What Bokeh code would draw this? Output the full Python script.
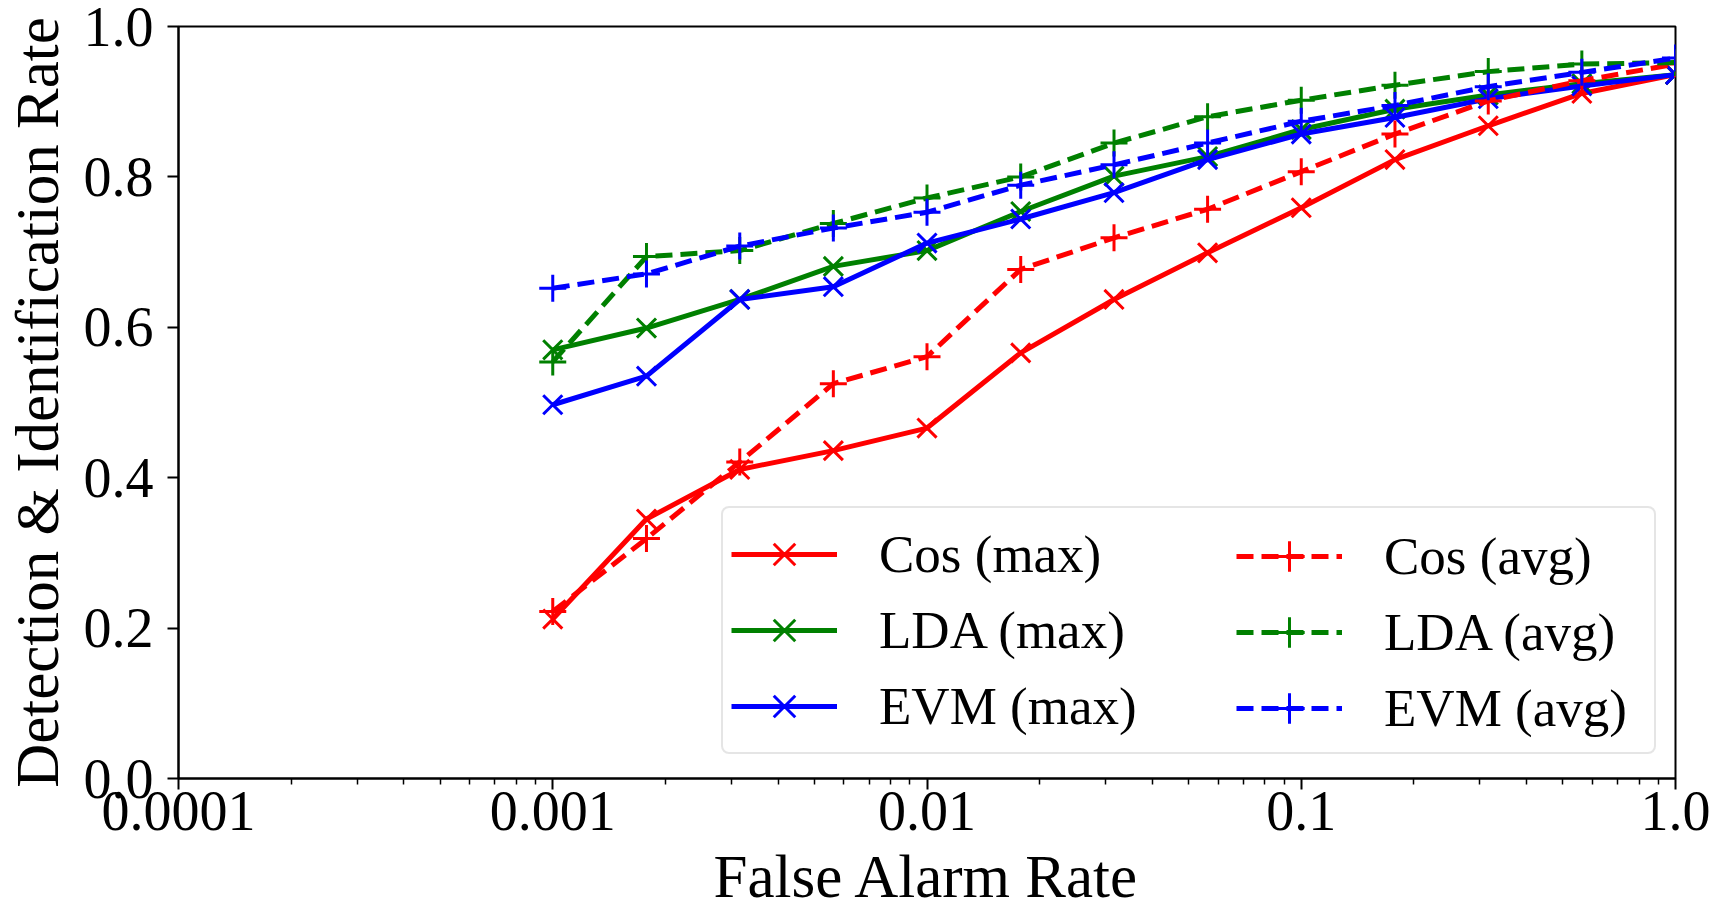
from bokeh.plotting import figure
from bokeh.models import (Range1d, FixedTicker, CustomJSTickFormatter, Legend, LegendItem)
from bokeh.embed import file_html
from bokeh.resources import INLINE

# ---- data ----
far = [0.001, 0.00178, 0.00316, 0.00562, 0.01, 0.0178, 0.0316, 0.0562, 0.1, 0.178, 0.316, 0.562, 1.0]

cos_max = [0.212, 0.345, 0.411, 0.436, 0.466, 0.566, 0.637, 0.699, 0.759, 0.823, 0.868, 0.911, 0.936]
cos_avg = [0.222, 0.319, 0.421, 0.525, 0.561, 0.677, 0.719, 0.757, 0.807, 0.857, 0.901, 0.928, 0.950]
lda_max = [0.570, 0.599, 0.637, 0.681, 0.702, 0.754, 0.801, 0.827, 0.863, 0.890, 0.909, 0.924, 0.936]
lda_avg = [0.554, 0.694, 0.702, 0.738, 0.772, 0.800, 0.845, 0.880, 0.902, 0.922, 0.940, 0.950, 0.952]
evm_max = [0.497, 0.535, 0.637, 0.654, 0.712, 0.744, 0.779, 0.823, 0.857, 0.879, 0.904, 0.921, 0.936]
evm_avg = [0.652, 0.671, 0.708, 0.732, 0.753, 0.789, 0.816, 0.845, 0.874, 0.895, 0.920, 0.939, 0.958]

x_major_ticks = [0.0001, 0.001, 0.01, 0.1, 1.0]
y_ticks = [0.0, 0.2, 0.4, 0.6, 0.8, 1.0]

labels_max = ["Cos (max)", "LDA (max)", "EVM (max)"]
labels_avg = ["Cos (avg)", "LDA (avg)", "EVM (avg)"]
colors = ["#ff0000", "#008000", "#0000ff"]

FONT = "Liberation Serif"
TICK_FS = "56px"
AX_FS = "61px"
LEG_FS = "53px"

p = figure(width=1711, height=912, x_axis_type="log", output_backend="svg",
           toolbar_location=None,
           x_range=Range1d(1e-4, 1.0), y_range=Range1d(0.0, 1.0),
           min_border_left=178, min_border_right=36, min_border_top=26,
           min_border_bottom=132)
p.background_fill_color = "white"
p.border_fill_color = "white"
p.xgrid.visible = False
p.ygrid.visible = False
p.outline_line_color = "black"
p.outline_line_width = 2

minor = []
for d in [1e-4, 1e-3, 1e-2, 1e-1]:
    for m in range(2, 10):
        minor.append(d * m)
p.xaxis.ticker = FixedTicker(ticks=x_major_ticks, minor_ticks=minor)
p.xaxis.formatter = CustomJSTickFormatter(code="return tick >= 1 ? tick.toFixed(1) : String(tick);")
p.yaxis.ticker = FixedTicker(ticks=y_ticks)
p.yaxis.formatter = CustomJSTickFormatter(code="return tick.toFixed(1);")

p.xaxis.axis_label = "False Alarm Rate"
p.yaxis.axis_label = "Detection & Identification Rate"

for ax in (p.xaxis, p.yaxis):
    ax.axis_label_text_font = FONT
    ax.axis_label_text_font_size = AX_FS
    ax.axis_label_text_font_style = "normal"
    ax.axis_label_text_color = "black"
    ax.major_label_text_font = FONT
    ax.major_label_text_font_size = TICK_FS
    ax.major_label_text_color = "black"
    ax.axis_line_width = 2
    ax.axis_line_color = "black"
    ax.major_tick_line_width = 2
    ax.major_tick_line_color = "black"
    ax.major_tick_in = 0
    ax.major_tick_out = 11
    ax.minor_tick_in = 0
    ax.minor_tick_out = 6
    ax.minor_tick_line_width = 1.5
    ax.minor_tick_line_color = "black"
p.xaxis.major_label_standoff = 2
p.xaxis.axis_label_standoff = 10
p.yaxis.major_label_standoff = 14
p.yaxis.axis_label_standoff = 10

LW = 5
DASH = "17 8"
items_max = []
items_avg = []
series_max = [cos_max, lda_max, evm_max]
series_avg = [cos_avg, lda_avg, evm_avg]

for ys, c, lab in zip(series_max, colors, labels_max):
    r1 = p.line(far, ys, line_color=c, line_width=LW)
    r2 = p.scatter(far, ys, marker="x", size=27, line_color=c, line_width=3)
    items_max.append(LegendItem(label=lab, renderers=[r1, r2]))
for ys, c, lab in zip(series_avg, colors, labels_avg):
    r1 = p.line(far, ys, line_color=c, line_width=LW, line_dash=DASH)
    r2 = p.scatter(far, ys, marker="cross", size=27, line_color=c, line_width=3)
    items_avg.append(LegendItem(label=lab, renderers=[r1, r2]))

def style(leg):
    leg.label_text_font = FONT
    leg.label_text_font_size = LEG_FS
    leg.label_text_color = "black"
    leg.glyph_width = 106
    leg.glyph_height = 76
    leg.label_standoff = 42
    leg.padding = 8
    leg.spacing = -2
    leg.margin = 0

leg1 = Legend(items=items_max, location=(543, 24))
style(leg1)
leg1.label_width = 767
leg1.border_line_color = "#cccccc"
leg1.border_line_width = 2
leg1.background_fill_color = "white"
leg1.background_fill_alpha = 0.8
if "border_radius" in Legend.properties():
    leg1.border_radius = 8

leg2 = Legend(items=items_avg, location=(1050, 24))
style(leg2)
leg2.border_line_alpha = 0
leg2.background_fill_alpha = 0

p.add_layout(leg1, "center")
p.add_layout(leg2, "center")

open("out.html", "w").write(file_html(p, INLINE))
